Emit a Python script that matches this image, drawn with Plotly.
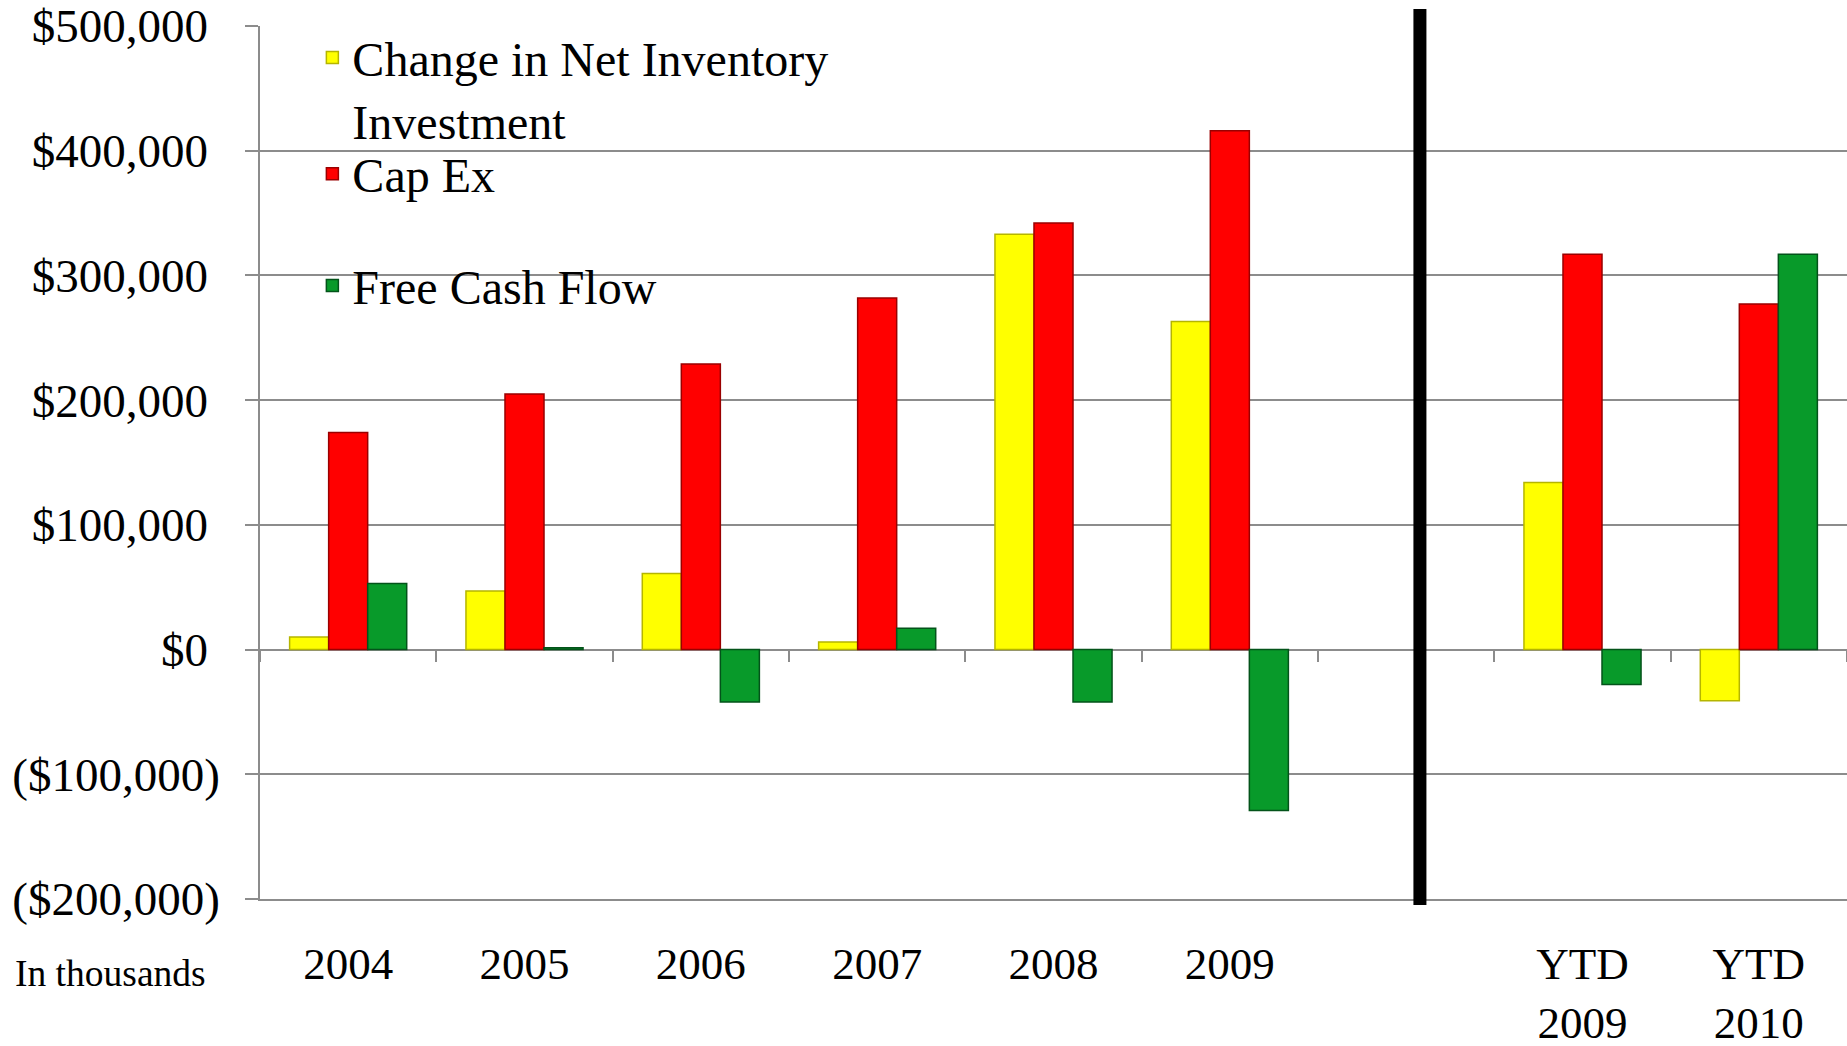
import plotly.graph_objects as go

# Fiscal periods; the blank slot separates full years from year-to-date figures
categories = ["2004", "2005", "2006", "2007", "2008", "2009", " ", "YTD<br>2009", "YTD<br>2010"]

# Values in thousands of dollars
inventory_change = [10000, 47000, 61000, 6000, 333000, 263000, None, 134000, -41000]
cap_ex = [174000, 205000, 229000, 282000, 342000, 416000, None, 317000, 277000]
free_cash_flow = [53000, 1500, -42000, 17000, -42000, -129000, None, -28000, 317000]

y_tick_values = [500000, 400000, 300000, 200000, 100000, 0, -100000, -200000]
y_tick_labels = ["$500,000\u00a0", "$400,000\u00a0", "$300,000\u00a0", "$200,000\u00a0",
                 "$100,000\u00a0", "$0\u00a0", "($100,000)", "($200,000)"]

FONT = "Liberation Serif, Times New Roman, serif"
GRID = "#8c8c8c"

fig = go.Figure()

series = [
    ("Change in Net Inventory<br>Investment", inventory_change, "#ffff00", "#b5b500", "legend"),
    ("Cap Ex", cap_ex, "#ff0000", "#9a0000", "legend2"),
    ("Free Cash Flow", free_cash_flow, "#089a2a", "#03531a", "legend3"),
]
for name, values, fill, edge, legend_id in series:
    fig.add_trace(go.Bar(
        x=categories, y=values, name=name, legend=legend_id, showlegend=True,
        marker=dict(color=fill, line=dict(color=edge, width=1.5)),
    ))

# empty trace that carries the tick axis along the zero line
fig.add_trace(go.Scatter(x=categories, y=[None] * len(categories), xaxis="x2",
                         mode="markers", showlegend=False, hoverinfo="skip"))

n = len(categories)

# Separator between annual and year-to-date groups
fig.add_shape(type="line", xref="x", yref="paper", x0=6.078, x1=6.078, y0=-0.007, y1=1.0195,
              line=dict(color="black", width=13), layer="above")

fig.add_annotation(text="In thousands", xref="paper", yref="paper", x=-0.094, y=-0.085,
                   showarrow=False, font=dict(family=FONT, size=37.5, color="black"),
                   xanchor="center", yanchor="middle")

legend_common = dict(bgcolor="rgba(0,0,0,0)", font=dict(family=FONT, size=48, color="black"),
                     xanchor="left", yanchor="top", valign="top", itemclick=False,
                     itemdoubleclick=False)

fig.update_layout(
    width=1847, height=1046,
    margin=dict(l=260, r=0, t=26, b=147, autoexpand=False),
    paper_bgcolor="white", plot_bgcolor="white",
    showlegend=True,
    barmode="group", bargap=0.336, bargroupgap=0,
    font=dict(family=FONT, color="black"),
    legend=dict(x=0.033, y=1.007, **legend_common),
    legend2=dict(x=0.033, y=0.874, **legend_common),
    legend3=dict(x=0.033, y=0.746, **legend_common),
    xaxis=dict(
        type="category", categoryarray=categories, range=[-0.5, n - 0.5],
        showline=True, linecolor=GRID, linewidth=2, ticks="", showgrid=False,
        tickfont=dict(family=FONT, size=45, color="black"), ticklabelstandoff=24,
        automargin=False, fixedrange=True,
    ),
    # tick marks along the zero line at category boundaries
    xaxis2=dict(
        type="category", categoryarray=categories, range=[-0.5, n - 0.5],
        overlaying="x", anchor="free", position=(899 - 650) / 873, side="bottom",
        tickson="boundaries", ticks="outside", ticklen=11, tickwidth=2, tickcolor=GRID,
        showticklabels=False, showline=False, showgrid=False, zeroline=False,
        automargin=False, fixedrange=True,
    ),
    yaxis=dict(
        range=[-200000, 500000], tickvals=y_tick_values, ticktext=y_tick_labels,
        showgrid=True, gridcolor=GRID, gridwidth=2,
        zeroline=True, zerolinecolor=GRID, zerolinewidth=2,
        showline=True, linecolor=GRID, linewidth=1.5,
        ticks="outside", ticklen=13, tickwidth=2, tickcolor=GRID,
        tickfont=dict(family=FONT, size=47, color="black"), ticklabelstandoff=16,
        automargin=False, fixedrange=True,
    ),
)

fig.write_html("out.html")
